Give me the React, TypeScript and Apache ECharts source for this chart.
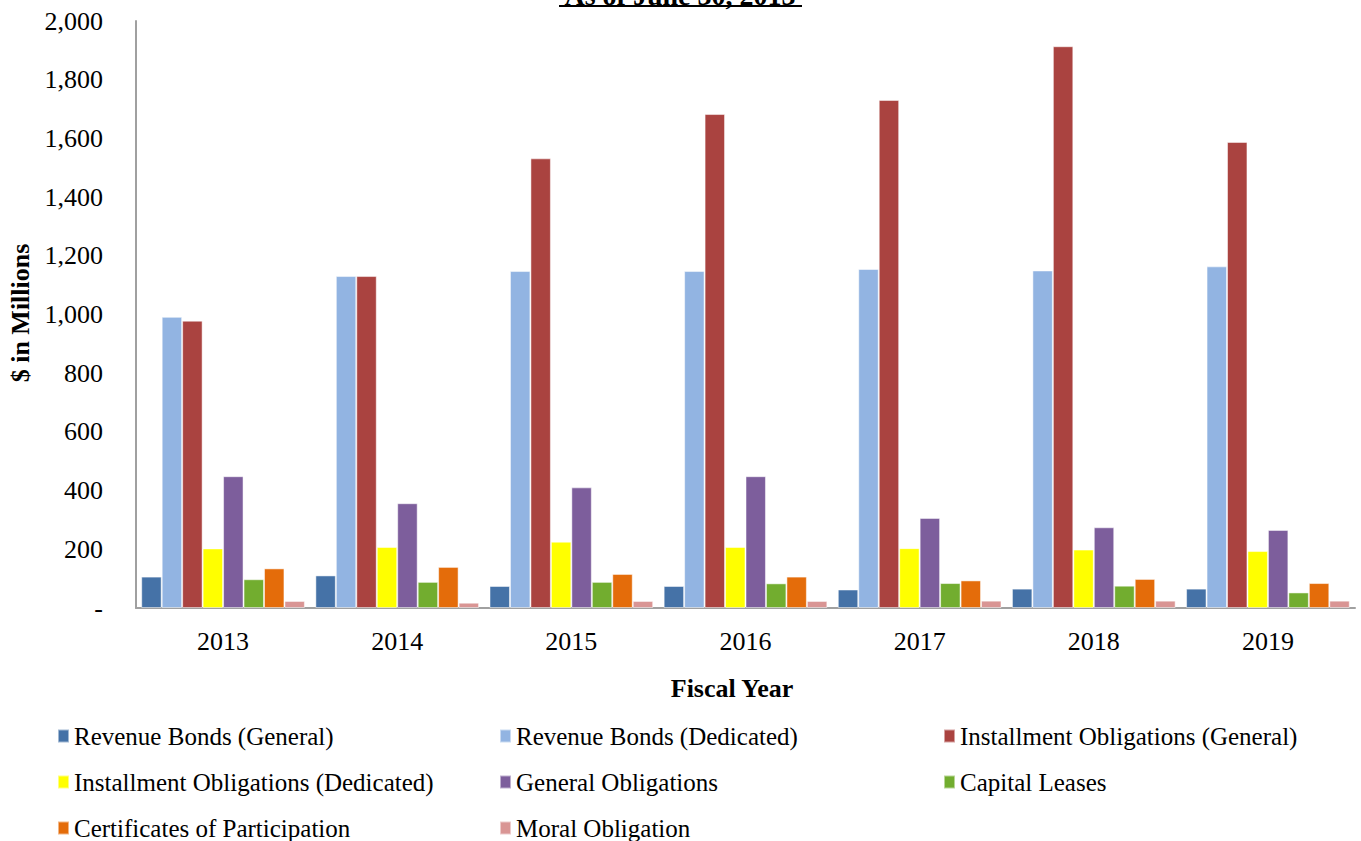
import React, { useEffect, useRef } from "react";
import * as echarts from "echarts";

const years = ["2013", "2014", "2015", "2016", "2017", "2018", "2019"];
const revenueBondsGeneral = [107, 111, 75, 75, 63, 66, 66];
const revenueBondsDedicated = [992, 1131, 1148, 1148, 1155, 1150, 1164];
const installmentGeneral = [979, 1131, 1532, 1683, 1731, 1914, 1588];
const installmentDedicated = [203, 208, 226, 208, 204, 199, 194];
const generalObligations = [449, 357, 411, 449, 307, 275, 266];
const capitalLeases = [98, 89, 89, 84, 85, 76, 53];
const certificatesOfParticipation = [135, 140, 116, 107, 94, 99, 85];
const moralObligation = [24, 18, 24, 24, 25, 25, 25];

const seriesDefs = [
  { name: "Revenue Bonds (General)", data: revenueBondsGeneral, color: "#4572A7" },
  { name: "Revenue Bonds (Dedicated)", data: revenueBondsDedicated, color: "#92B4E2" },
  { name: "Installment Obligations (General)", data: installmentGeneral, color: "#AA4340" },
  { name: "Installment Obligations (Dedicated)", data: installmentDedicated, color: "#FFFF00" },
  { name: "General Obligations", data: generalObligations, color: "#7D5E9C" },
  { name: "Capital Leases", data: capitalLeases, color: "#72AD2F" },
  { name: "Certificates of Participation", data: certificatesOfParticipation, color: "#E46C0A" },
  { name: "Moral Obligation", data: moralObligation, color: "#D99594" },
];

// legend slot (column, row) per series, in series order
const legendCols = [57, 499, 943, 57, 499, 943, 57, 499];
const legendRows = [736, 736, 736, 782, 782, 782, 828, 828];

const FONT = "'Liberation Serif', 'Times New Roman', serif";

export default function App() {
  const ref = useRef<HTMLDivElement>(null);
  useEffect(() => {
    if (!ref.current) return;
    const chart = echarts.init(ref.current, undefined, { renderer: "svg" });
    chart.setOption({
      animation: false,
      textStyle: { fontFamily: FONT },
      grid: { left: 136, right: 6, top: 21, bottom: 233, containLabel: false },
      xAxis: {
        type: "category",
        data: years,
        axisLine: { lineStyle: { color: "#a0a0a0", width: 2 } },
        axisTick: { show: false },
        axisLabel: { fontFamily: FONT, fontSize: 26, color: "#000", margin: 20 },
      },
      yAxis: {
        type: "value",
        min: 0,
        max: 2000,
        interval: 200,
        axisLine: { show: true, lineStyle: { color: "#a0a0a0", width: 2 } },
        axisTick: { show: false },
        splitLine: { show: false },
        axisLabel: {
          fontFamily: FONT,
          fontSize: 26,
          color: "#000",
          margin: 33,
          formatter: (v: number) => (v === 0 ? "-" : v.toLocaleString("en-US")),
        },
      },
      legend: seriesDefs.map((s, i) => ({
        orient: "horizontal",
        left: legendCols[i],
        top: legendRows[i] - 13,
        padding: 0,
        itemWidth: 11,
        itemHeight: 13,
        icon: "rect",
        data: [s.name],
        textStyle: { fontFamily: FONT, fontSize: 25, color: "#000", lineHeight: 26 },
        selectedMode: false,
      })),
      graphic: [
        {
          type: "text",
          x: 680,
          y: 9,
          style: {
            text: "As of June 30, 2013",
            font: `bold 28px ${FONT}`,
            fill: "#000",
            textAlign: "center",
            textVerticalAlign: "bottom",
          },
        },
        {
          type: "line",
          shape: { x1: 559, y1: 6, x2: 802, y2: 6 },
          style: { stroke: "#000", lineWidth: 2 },
        },
        {
          type: "text",
          x: 732,
          y: 688,
          style: {
            text: "Fiscal Year",
            font: `bold 26px ${FONT}`,
            fill: "#000",
            textAlign: "center",
            textVerticalAlign: "middle",
          },
        },
        {
          type: "text",
          x: 20,
          y: 313,
          rotation: Math.PI / 2,
          style: {
            text: "$ in Millions",
            font: `bold 26px ${FONT}`,
            fill: "#000",
            textAlign: "center",
            textVerticalAlign: "middle",
          },
        },
      ],
      series: seriesDefs.map((s) => ({
        type: "bar",
        name: s.name,
        data: s.data,
        barGap: "0%",
        barCategoryGap: "6%",
        itemStyle: { color: s.color, borderColor: "rgba(255,255,255,0.5)", borderWidth: 1 },
      })),
    });
    return () => chart.dispose();
  }, []);
  return <div ref={ref} style={{ width: 1361, height: 841, position: "absolute", left: 0, top: 0 }} />;
}
